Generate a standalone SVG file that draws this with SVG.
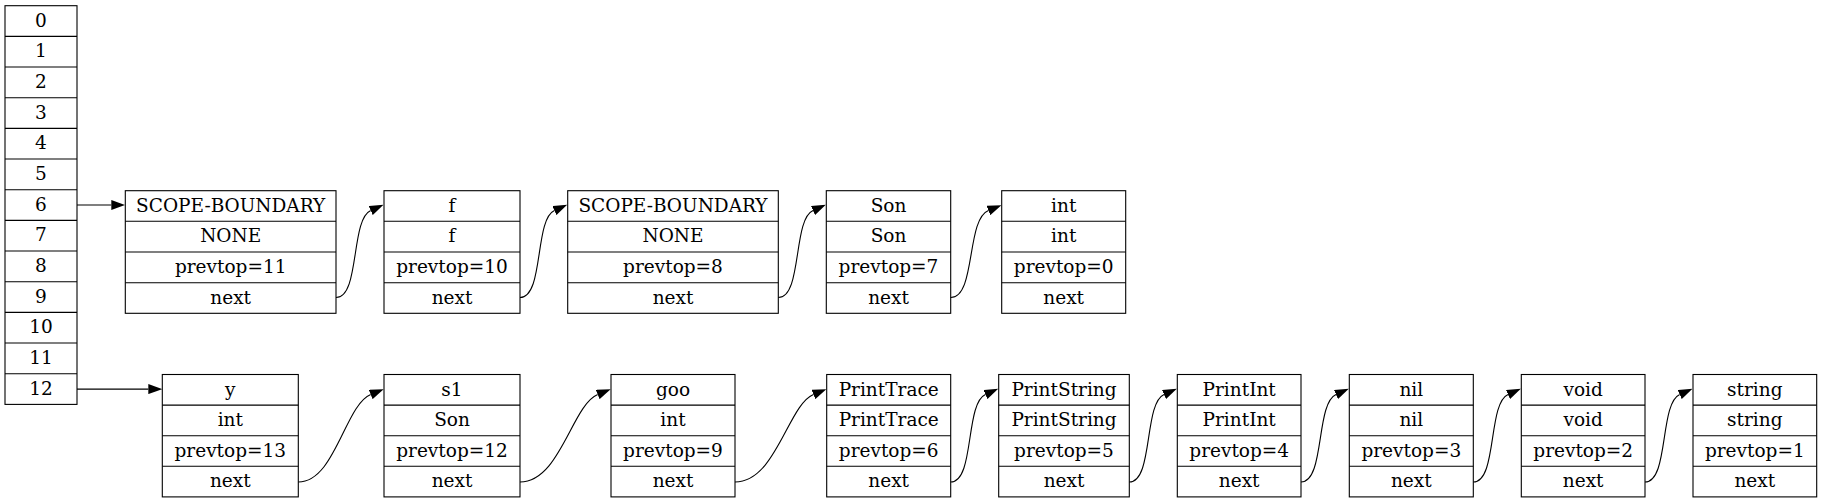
<svg xmlns="http://www.w3.org/2000/svg" width="1823" height="503" viewBox="0 0 1823 503">
<style>
.box{fill:#fff;stroke:#000;stroke-width:1.1}
.sep{stroke:#000;stroke-width:1.1}
text{font-family:"DejaVu Serif","Liberation Serif",serif;font-size:18.5px;text-anchor:middle;fill:#000}
.edge{fill:none;stroke:#000;stroke-width:1.1}
</style>
<defs>
<marker id="ah" markerUnits="userSpaceOnUse" viewBox="0 0 14 10" markerWidth="14" markerHeight="10" refX="0" refY="5" orient="auto">
<path d="M0,0 L14,5 L0,10 z" fill="#000"/>
</marker>
</defs>
<rect width="1823" height="503" fill="#fff"/>

<g id="array">
<rect class="box" x="5" y="5.7" width="72" height="398.7"/>
<path class="sep" d="M5,36.4H77M5,67H77M5,97.7H77M5,128.4H77M5,159H77M5,189.7H77M5,220.4H77M5,251H77M5,281.7H77M5,312.4H77M5,343H77M5,373.7H77"/>
<text x="41" y="26.7">0</text>
<text x="41" y="57.4">1</text>
<text x="41" y="88">2</text>
<text x="41" y="118.7">3</text>
<text x="41" y="149.4">4</text>
<text x="41" y="180">5</text>
<text x="41" y="210.7">6</text>
<text x="41" y="241.4">7</text>
<text x="41" y="272">8</text>
<text x="41" y="302.7">9</text>
<text x="41" y="333.4">10</text>
<text x="41" y="364">11</text>
<text x="41" y="394.7">12</text>
</g>

<g id="t1">
<rect class="box" x="125.3" y="190.7" width="210.7" height="122.6"/>
<path class="sep" d="M125.3,221.3H336M125.3,252H336M125.3,282.7H336"/>
<text x="230.7" y="211.7">SCOPE-BOUNDARY</text>
<text x="230.7" y="242.3">NONE</text>
<text x="230.7" y="273">prevtop=11</text>
<text x="230.7" y="303.7">next</text>
</g>
<g id="t2">
<rect class="box" x="384" y="190.7" width="136" height="122.6"/>
<path class="sep" d="M384,221.3H520M384,252H520M384,282.7H520"/>
<text x="452" y="211.7">f</text>
<text x="452" y="242.3">f</text>
<text x="452" y="273">prevtop=10</text>
<text x="452" y="303.7">next</text>
</g>
<g id="t3">
<rect class="box" x="567.7" y="190.7" width="210.6" height="122.6"/>
<path class="sep" d="M567.7,221.3H778.3M567.7,252H778.3M567.7,282.7H778.3"/>
<text x="673" y="211.7">SCOPE-BOUNDARY</text>
<text x="673" y="242.3">NONE</text>
<text x="673" y="273">prevtop=8</text>
<text x="673" y="303.7">next</text>
</g>
<g id="t4">
<rect class="box" x="826.3" y="190.7" width="124.4" height="122.6"/>
<path class="sep" d="M826.3,221.3H950.7M826.3,252H950.7M826.3,282.7H950.7"/>
<text x="888.5" y="211.7">Son</text>
<text x="888.5" y="242.3">Son</text>
<text x="888.5" y="273">prevtop=7</text>
<text x="888.5" y="303.7">next</text>
</g>
<g id="t5">
<rect class="box" x="1001.7" y="190.7" width="124" height="122.6"/>
<path class="sep" d="M1001.7,221.3H1125.7M1001.7,252H1125.7M1001.7,282.7H1125.7"/>
<text x="1063.7" y="211.7">int</text>
<text x="1063.7" y="242.3">int</text>
<text x="1063.7" y="273">prevtop=0</text>
<text x="1063.7" y="303.7">next</text>
</g>

<g id="b1">
<rect class="box" x="162.3" y="374.5" width="136" height="122.4"/>
<path class="sep" d="M162.3,405.1H298.3M162.3,435.7H298.3M162.3,466.3H298.3"/>
<text x="230.3" y="395.5">y</text>
<text x="230.3" y="426.1">int</text>
<text x="230.3" y="456.7">prevtop=13</text>
<text x="230.3" y="487.3">next</text>
</g>
<g id="b2">
<rect class="box" x="384" y="374.5" width="136" height="122.4"/>
<path class="sep" d="M384,405.1H520M384,435.7H520M384,466.3H520"/>
<text x="452" y="395.5">s1</text>
<text x="452" y="426.1">Son</text>
<text x="452" y="456.7">prevtop=12</text>
<text x="452" y="487.3">next</text>
</g>
<g id="b3">
<rect class="box" x="611" y="374.5" width="124" height="122.4"/>
<path class="sep" d="M611,405.1H735M611,435.7H735M611,466.3H735"/>
<text x="673" y="395.5">goo</text>
<text x="673" y="426.1">int</text>
<text x="673" y="456.7">prevtop=9</text>
<text x="673" y="487.3">next</text>
</g>
<g id="b4">
<rect class="box" x="826.7" y="374.5" width="124" height="122.4"/>
<path class="sep" d="M826.7,405.1H950.7M826.7,435.7H950.7M826.7,466.3H950.7"/>
<text x="888.7" y="395.5">PrintTrace</text>
<text x="888.7" y="426.1">PrintTrace</text>
<text x="888.7" y="456.7">prevtop=6</text>
<text x="888.7" y="487.3">next</text>
</g>
<g id="b5">
<rect class="box" x="998.7" y="374.5" width="130.6" height="122.4"/>
<path class="sep" d="M998.7,405.1H1129.3M998.7,435.7H1129.3M998.7,466.3H1129.3"/>
<text x="1064" y="395.5">PrintString</text>
<text x="1064" y="426.1">PrintString</text>
<text x="1064" y="456.7">prevtop=5</text>
<text x="1064" y="487.3">next</text>
</g>
<g id="b6">
<rect class="box" x="1177.3" y="374.5" width="123.7" height="122.4"/>
<path class="sep" d="M1177.3,405.1H1301M1177.3,435.7H1301M1177.3,466.3H1301"/>
<text x="1239.2" y="395.5">PrintInt</text>
<text x="1239.2" y="426.1">PrintInt</text>
<text x="1239.2" y="456.7">prevtop=4</text>
<text x="1239.2" y="487.3">next</text>
</g>
<g id="b7">
<rect class="box" x="1349.3" y="374.5" width="124" height="122.4"/>
<path class="sep" d="M1349.3,405.1H1473.3M1349.3,435.7H1473.3M1349.3,466.3H1473.3"/>
<text x="1411.3" y="395.5">nil</text>
<text x="1411.3" y="426.1">nil</text>
<text x="1411.3" y="456.7">prevtop=3</text>
<text x="1411.3" y="487.3">next</text>
</g>
<g id="b8">
<rect class="box" x="1521.3" y="374.5" width="123.7" height="122.4"/>
<path class="sep" d="M1521.3,405.1H1645M1521.3,435.7H1645M1521.3,466.3H1645"/>
<text x="1583.2" y="395.5">void</text>
<text x="1583.2" y="426.1">void</text>
<text x="1583.2" y="456.7">prevtop=2</text>
<text x="1583.2" y="487.3">next</text>
</g>
<g id="b9">
<rect class="box" x="1693" y="374.5" width="123.7" height="122.4"/>
<path class="sep" d="M1693,405.1H1816.7M1693,435.7H1816.7M1693,466.3H1816.7"/>
<text x="1754.8" y="395.5">string</text>
<text x="1754.8" y="426.1">string</text>
<text x="1754.8" y="456.7">prevtop=1</text>
<text x="1754.8" y="487.3">next</text>
</g>

<g id="connectors">
<path class="edge" marker-end="url(#ah)" d="M77,205H111.3"/>
<path class="edge" marker-end="url(#ah)" d="M77,389.1H148.3"/>
<path class="edge" marker-end="url(#ah)" d="M336,297.5C360,297.5 350.4,219.5 370.7,210.5"/>
<path class="edge" marker-end="url(#ah)" d="M520,297.5C544,297.5 534.3,219.5 554.4,210.5"/>
<path class="edge" marker-end="url(#ah)" d="M778.3,297.5C802.3,297.5 792.7,219.5 813,210.5"/>
<path class="edge" marker-end="url(#ah)" d="M950.7,297.5C976,297.5 966,219.5 988.4,210.5"/>
<path class="edge" marker-end="url(#ah)" d="M298.3,482C335,482 345,405 370.7,394.5"/>
<path class="edge" marker-end="url(#ah)" d="M520,482C560,482 572,405 597.7,394.5"/>
<path class="edge" marker-end="url(#ah)" d="M735,482C776,482 788,405 813.4,394.5"/>
<path class="edge" marker-end="url(#ah)" d="M950.7,482C974.7,482 965,403.5 985.4,394.5"/>
<path class="edge" marker-end="url(#ah)" d="M1129.3,482C1153.3,482 1143.7,403.5 1164,394.5"/>
<path class="edge" marker-end="url(#ah)" d="M1301,482C1325,482 1315.5,403.5 1336,394.5"/>
<path class="edge" marker-end="url(#ah)" d="M1473.3,482C1497.3,482 1487.7,403.5 1508,394.5"/>
<path class="edge" marker-end="url(#ah)" d="M1645,482C1669,482 1659.4,403.5 1679.7,394.5"/>
</g>
</svg>
